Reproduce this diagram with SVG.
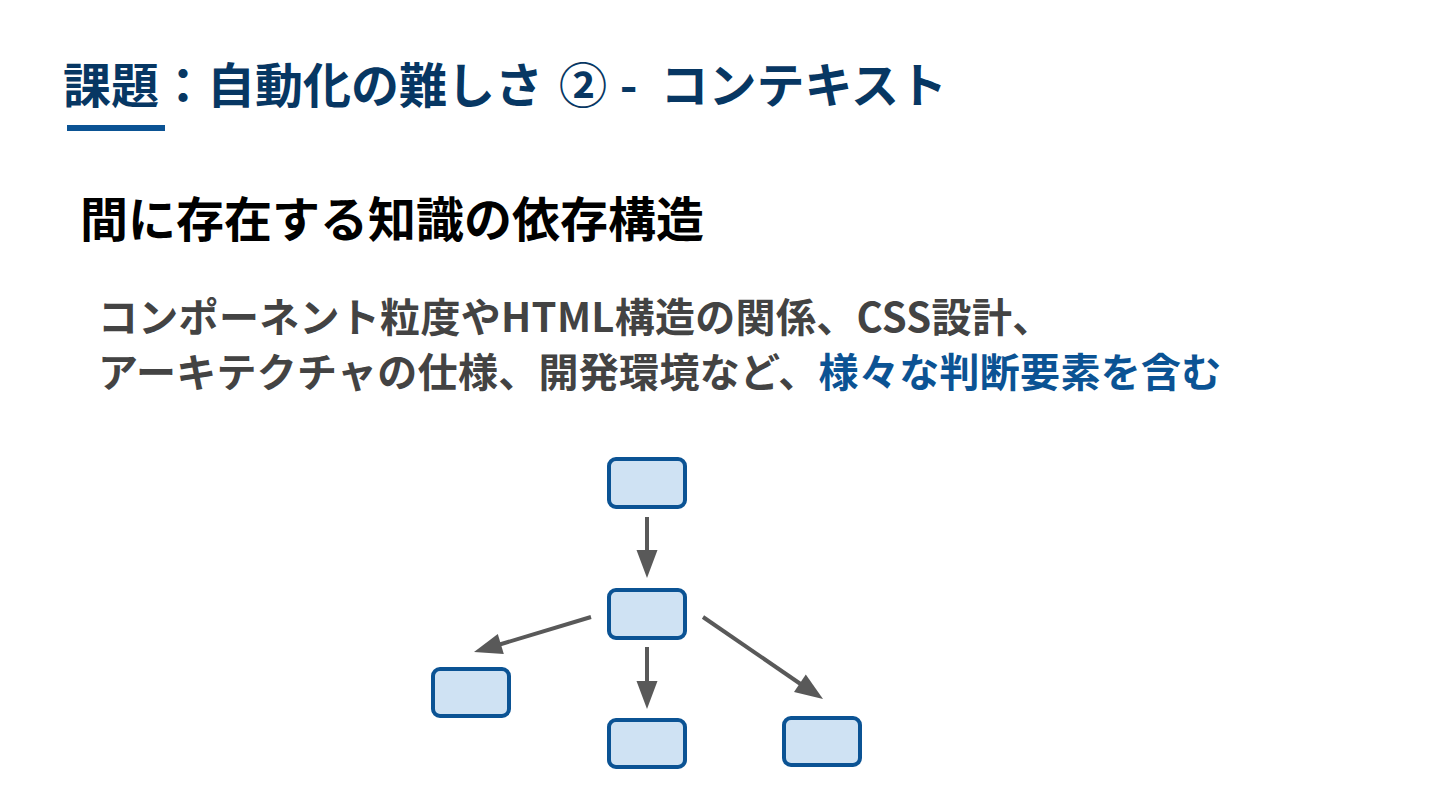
<svg xmlns="http://www.w3.org/2000/svg" width="1440" height="810" viewBox="0 0 1440 810">
<defs>
<style>
.t{font-family:"Noto Sans CJK JP","Noto Sans",sans-serif;font-weight:700}
.title{font-size:48px;fill:#073763}
.head{font-size:48px;fill:#000}
.body{font-size:40px;fill:#434343;letter-spacing:0.3px}
.hl{fill:#0b5394}
.node rect{fill:#cfe2f3;stroke:#0b5394;stroke-width:4}
.edge{stroke:#595959;stroke-width:4;fill:none}
.head-ar{fill:#595959}
</style>
</defs>
<rect width="1440" height="810" fill="#fff"/>
<text class="t title" x="63" y="103">課題：自動化の難しさ <tspan dx="5">②</tspan> <tspan dx="2">-</tspan> <tspan dx="12">コンテキスト</tspan></text>
<rect x="67" y="125" width="98" height="6" fill="#0b5394"/>
<text class="t head" x="80" y="237">間に存在する知識の依存構造</text>
<text class="t body" x="98" y="332">コンポーネント粒度やHTML構造の関係、CSS設計、</text>
<text class="t body" x="98" y="387">アーキテクチャの仕様、開発環境など、<tspan class="hl">様々な判断要素を含む</tspan></text>
<g id="connectors">
<line class="edge" x1="647" y1="517" x2="647" y2="553"/>
<polygon class="head-ar" points="636.5,550 657.5,550 647,578"/>
<line class="edge" x1="647" y1="647" x2="647" y2="684"/>
<polygon class="head-ar" points="636.5,681 657.5,681 647,709"/>
<line class="edge" x1="591" y1="617" x2="498" y2="645"/>
<polygon class="head-ar" points="503.8,654 497.8,633.9 474,652"/>
<line class="edge" x1="703" y1="617" x2="802" y2="685"/>
<polygon class="head-ar" points="794,691.9 805.8,674.5 823,699"/>
</g>
<g id="node-top" class="node"><rect x="609" y="459" width="76" height="48" rx="7"/></g>
<g id="node-mid" class="node"><rect x="609" y="590" width="76" height="48" rx="7"/></g>
<g id="node-left" class="node"><rect x="433" y="669" width="76" height="47" rx="7"/></g>
<g id="node-bottom" class="node"><rect x="609" y="720" width="76" height="47" rx="7"/></g>
<g id="node-right" class="node"><rect x="784" y="718" width="76" height="47" rx="7"/></g>
</svg>
